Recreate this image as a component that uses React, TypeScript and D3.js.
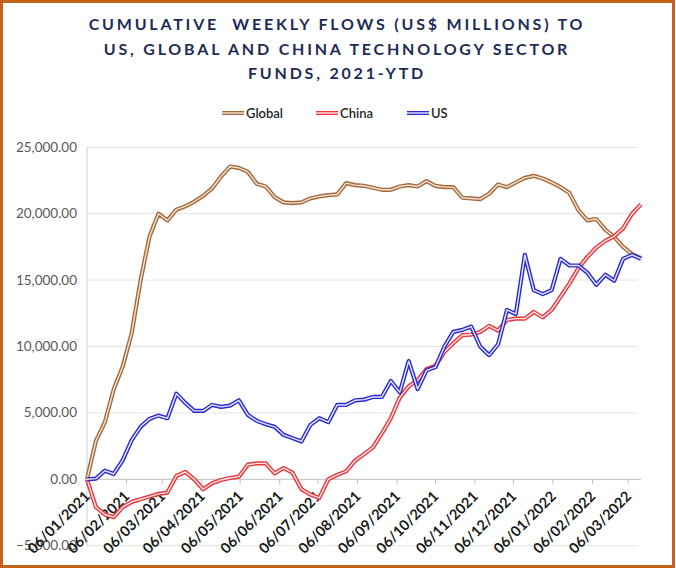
import React from "react";
import * as d3 from "d3";

const START = "2021-01-06";
const END = "2022-03-16";

const globalFlows = [0, 2900, 4300, 6800, 8500, 11000, 15000, 18300, 20000, 19500, 20300, 20550, 20900, 21350, 21900, 22800, 23550, 23450, 23150, 22250, 22050, 21250, 20850, 20800, 20850, 21150, 21300, 21400, 21450, 22300, 22150, 22100, 21950, 21800, 21800, 22050, 22150, 22050, 22450, 22100, 22000, 22000, 21200, 21150, 21100, 21500, 22200, 22000, 22350, 22700, 22850, 22650, 22350, 22000, 21550, 20250, 19500, 19600, 18800, 18250, 17500, 16950, 16650];
const chinaFlows = [0, -2100, -2650, -2850, -2100, -1700, -1500, -1300, -1100, -1000, 250, 550, 0, -750, -300, -50, 100, 200, 1100, 1200, 1200, 450, 850, 500, -750, -1150, -1400, 0, 330, 600, 1400, 1900, 2400, 3450, 4600, 6150, 7000, 7450, 8300, 8550, 9600, 10250, 10850, 10900, 11100, 11550, 11200, 12000, 12100, 12100, 12600, 12200, 12750, 13750, 14750, 15900, 16750, 17450, 17950, 18300, 18900, 20000, 20700];
const usFlows = [0, 50, 650, 400, 1450, 2950, 3950, 4550, 4800, 4600, 6450, 5750, 5150, 5150, 5600, 5450, 5550, 5950, 4850, 4400, 4150, 3950, 3350, 3100, 2850, 4100, 4600, 4300, 5600, 5600, 5950, 6000, 6200, 6200, 7400, 6550, 8900, 6800, 8200, 8450, 10000, 11100, 11250, 11500, 10000, 9350, 10150, 12750, 12450, 16900, 14250, 13950, 14250, 16600, 16100, 16100, 15550, 14650, 15400, 14950, 16600, 16900, 16600];

const xTickLabels = ["06/01/2021", "06/02/2021", "06/03/2021", "06/04/2021", "06/05/2021", "06/06/2021", "06/07/2021", "06/08/2021", "06/09/2021", "06/10/2021", "06/11/2021", "06/12/2021", "06/01/2022", "06/02/2022", "06/03/2022"];
const yTicks = [-5000, 0, 5000, 10000, 15000, 20000, 25000];

const titleLines = ["CUMULATIVE  WEEKLY FLOWS (US$ MILLIONS) TO", "US, GLOBAL AND CHINA TECHNOLOGY SECTOR", "FUNDS, 2021-YTD"];

const seriesNames = ["Global", "China", "US"];
const seriesColors = ["#A26A3E", "#E8363C", "#2A2AD2"];
const seriesInner = ["#F6E2CF", "#FFE8E8", "#E8E8FF"];

export default function App() {
  const W = 676, H = 569;
  const start = new Date(START + "T00:00:00Z");
  const end = new Date(END + "T00:00:00Z");
  const dates = globalFlows.map((_, i) => d3.utcDay.offset(start, 7 * i));
  const x = d3.scaleUtc().domain([start, end]).range([87, 641]);
  const y = d3.scaleLinear().domain([-5000, 25000]).range([545.7, 147.3]);
  const parse = d3.utcParse("%d/%m/%Y");
  const tickDates = xTickLabels.map((l) => parse(l) as Date);
  const fmt = d3.format(",.2f");
  const line = d3.line<number>().x((_, i) => x(dates[i])).y((v) => y(v));
  const allSeries = [globalFlows, chinaFlows, usFlows];
  const legendX = [222, 316, 407];

  return (
    <svg width={W} height={H} style={{ position: "absolute", left: 0, top: 0, display: "block" }} fontFamily="Lato, 'Open Sans', sans-serif">
      <rect x={0} y={0} width={W} height={H} fill="#fff" />
      <rect x={1.5} y={1.5} width={672} height={565} fill="none" stroke="#C5621C" strokeWidth={3} />
      {titleLines.map((t, i) => (
        <text key={i} x={337} y={30 + i * 24.5} textAnchor="middle" fontSize={16} fontWeight={700} letterSpacing={2.8} fill="#1F2B57" style={{ whiteSpace: "pre" }}>{t}</text>
      ))}
      {seriesNames.map((n, i) => (
        <g key={n}>
          <line x1={legendX[i]} x2={legendX[i] + 22} y1={113} y2={113} stroke={seriesColors[i]} strokeWidth={4} />
          <line x1={legendX[i]} x2={legendX[i] + 22} y1={113} y2={113} stroke={seriesInner[i]} strokeWidth={1.4} />
          <text x={legendX[i] + 24} y={117.5} fontSize={13} fontWeight={600} fill="#262626">{n}</text>
        </g>
      ))}
      {yTicks.map((t) => (
        <g key={t}>
          {t !== 0 && <line x1={87} x2={638} y1={y(t)} y2={y(t)} stroke="#E3E3E3" strokeWidth={1} />}
          <text x={77} y={y(t) + 4.5} textAnchor="end" fontSize={13.5} fill="#595959">{fmt(t)}</text>
        </g>
      ))}
      <line x1={87} x2={87} y1={y(25000)} y2={y(-5000)} stroke="#D0D0D0" />
      <line x1={87} x2={641} y1={y(0)} y2={y(0)} stroke="#BFBFBF" />
      {tickDates.map((d, i) => (
        <g key={i}>
          <line x1={x(d)} x2={x(d)} y1={y(0)} y2={y(0) + 5} stroke="#BFBFBF" />
          <text transform={`translate(${x(d) + 4},${y(0) + 18}) rotate(-45)`} textAnchor="end" fontSize={14.5} fontWeight={700} fill="#1a1a1a">{xTickLabels[i]}</text>
        </g>
      ))}
      {allSeries.map((s, i) => (
        <g key={i}>
          <path d={line(s) || ""} fill="none" stroke={seriesColors[i]} strokeWidth={4.2} strokeLinejoin="round" />
          <path d={line(s) || ""} fill="none" stroke={seriesInner[i]} strokeWidth={1.4} strokeLinejoin="round" />
        </g>
      ))}
    </svg>
  );
}
